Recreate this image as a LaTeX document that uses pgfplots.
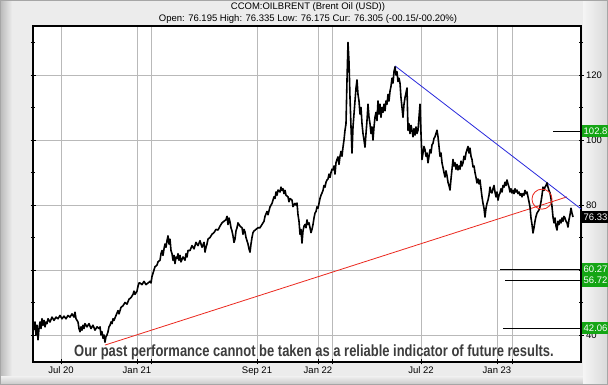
\documentclass[border=0pt]{standalone}
\usepackage{pgfplots}
\pgfplotsset{compat=1.18}
\usepackage{pgfplotstable}
\usepackage{fontspec}
\setmainfont{Liberation Sans}
\definecolor{boxgreen}{RGB}{20,165,20}
\definecolor{framegray}{RGB}{236,236,236}
\definecolor{gridgray}{RGB}{185,185,185}
\definecolor{discl}{RGB}{60,60,60}
\definecolor{trendred}{RGB}{235,40,30}
\definecolor{trendblue}{RGB}{40,40,220}

\pgfplotstableread[row sep=\\]{
x y\\
34 41.5\\ 35 44\\ 36 40\\ 37 43\\ 38 38.5\\ 39 42\\ 40 44\\ 41 42\\ 42 45\\ 43 43\\ 44 44.5\\ 45 42.5\\ 46 44\\ 47 43.5\\ 48 45\\ 50 44\\ 52 45.5\\ 54 44.5\\ 56 45.5\\ 58 45\\ 60 46\\ 62 45\\ 64 45.8\\ 66 45\\ 68 46\\ 70 45.5\\ 72 46.5\\ 74 45.5\\ 75 47\\ 76 45\\ 78 44\\ 79 42\\ 80 41\\ 81 42.5\\ 82 41.5\\ 83 43\\ 84 42\\ 85 43.5\\ 87 42.5\\ 89 43.5\\ 91 42\\ 93 43\\ 95 41.5\\ 97 42.5\\ 99 42\\ 100 42.5\\ 101 40\\ 102 41\\ 103 39\\ 104 40\\ 105 37.8\\ 106 39.5\\ 107 40\\ 108 41\\ 109 42.5\\ 110 43\\ 111 44\\ 112 43.5\\ 113 45\\ 114 44.5\\ 116 46\\ 118 47.5\\ 119 46.5\\ 121 48.5\\ 123 49\\ 125 50\\ 127 49.5\\ 129 51\\ 131 51.5\\ 133 52.5\\ 134 53.5\\ 135 52.5\\ 136 53\\ 137 53.5\\ 138 55\\ 139 56\\ 140 56\\ 142 55.5\\ 144 56.5\\ 146 55.5\\ 148 56\\ 150 56.5\\ 151 56\\ 152 58\\ 154 60\\ 155 61\\ 157 61.5\\ 158 62.5\\ 160 63\\ 161 65\\ 162 66\\ 163 64.5\\ 164 66.5\\ 165 68\\ 166 67\\ 167 69\\ 168 70.5\\ 169 68\\ 170 69.5\\ 171 66\\ 172 65\\ 173 63\\ 174 64.5\\ 175 62\\ 176 64\\ 177 63.5\\ 178 65\\ 179 63\\ 180 64.5\\ 181 62.5\\ 183 64\\ 185 63\\ 186 65\\ 187 64\\ 188 66\\ 190 66\\ 192 67.5\\ 194 66.5\\ 196 68.5\\ 198 67.5\\ 200 69\\ 202 67\\ 204 68.5\\ 205 65.5\\ 206 67\\ 207 68\\ 208 69.5\\ 210 70\\ 212 71\\ 214 71.5\\ 216 72.5\\ 218 72.3\\ 220 73.5\\ 222 74.5\\ 224 75\\ 226 75.5\\ 227 76.5\\ 228 74\\ 229 76\\ 230 74.8\\ 231 73\\ 232 72\\ 233 70.5\\ 234 68.5\\ 235 69.5\\ 236 72\\ 237 73\\ 238 74.5\\ 240 73.5\\ 242 73\\ 243 71\\ 244 72.5\\ 245 71.7\\ 246 70\\ 247 69\\ 248 68\\ 249 66.5\\ 250 65.5\\ 251 68\\ 252 70\\ 253 71.5\\ 254 72\\ 256 72.5\\ 258 73\\ 260 73\\ 262 74\\ 263 74.5\\ 264 75\\ 265 76.5\\ 267 78\\ 268 77\\ 270 79.4\\ 272 80.5\\ 274 82.5\\ 275 82\\ 276 84\\ 277 83\\ 278 84.6\\ 280 84\\ 281 85.5\\ 282 84.5\\ 283 85\\ 284 83.5\\ 285 84.5\\ 286 83\\ 288 82.5\\ 289 81\\ 290 82\\ 292 81.5\\ 293 79.5\\ 294 80\\ 295 80.5\\ 296 80\\ 297 80.6\\ 298 77\\ 299 75\\ 300 71\\ 301 72.5\\ 302 68.3\\ 303 72\\ 304 73.5\\ 305 74\\ 306 73\\ 307 75.4\\ 308 74\\ 309 74.5\\ 310 73\\ 311 71.5\\ 312 72.5\\ 313 74\\ 314 76\\ 315 77.5\\ 316 78\\ 317 79.4\\ 318 79\\ 319 80.5\\ 320 82\\ 321 83\\ 322 83.7\\ 323 84.5\\ 324 86\\ 325 85.5\\ 326 87\\ 327 87.7\\ 328 88\\ 329 89.5\\ 330 88.5\\ 331 90\\ 332 91\\ 333 90.8\\ 334 92\\ 335 89.5\\ 336 93\\ 337 94\\ 338 94.8\\ 339 92.5\\ 340 95\\ 341 96.5\\ 342 95\\ 343 97.8\\ 344 100\\ 345 103\\ 346 105\\ 347 118.5\\ 348 130\\ 349 124\\ 350 113\\ 351 104\\ 352 96\\ 353 104\\ 354 108\\ 355 112\\ 356 116\\ 357 118.5\\ 358 114\\ 359 112\\ 360 108\\ 361 110\\ 362 105\\ 363 102\\ 364 100\\ 365 97.8\\ 366 102\\ 367 106\\ 368 111\\ 369 107\\ 370 105\\ 371 102\\ 372 104\\ 373 100\\ 374 104\\ 375 107\\ 376 108.5\\ 377 106\\ 378 112\\ 379 108\\ 380 111\\ 381 107\\ 382 110\\ 383 108.5\\ 384 111\\ 385 109\\ 386 112\\ 387 111\\ 388 114\\ 389 112\\ 390 115\\ 391 116.5\\ 392 119\\ 393 117.5\\ 394 121\\ 395 122.5\\ 396 120\\ 397 121\\ 398 118\\ 399 119\\ 400 117.5\\ 401 113\\ 402 110\\ 403 107\\ 404 111\\ 405 113\\ 406 114.5\\ 407 116\\ 408 103\\ 409 105\\ 410 102\\ 411 104.5\\ 412 103\\ 413 101\\ 414 103.5\\ 415 101.5\\ 416 104\\ 417 102\\ 418 103\\ 419 107\\ 420 111\\ 421 102\\ 422 94\\ 423 96\\ 424 98\\ 425 97\\ 426 95\\ 427 96\\ 428 93\\ 429 95\\ 430 97\\ 431 96\\ 432 98.5\\ 433 99\\ 434 100.5\\ 435 101\\ 436 102\\ 437 103\\ 438 101\\ 439 98\\ 440 95\\ 441 96\\ 442 93\\ 443 91.5\\ 444 90\\ 445 88.6\\ 446 90.5\\ 447 89\\ 448 87\\ 449 86\\ 450 84.6\\ 451 88\\ 452 91\\ 453 94\\ 454 92\\ 455 93\\ 456 91\\ 457 92.5\\ 458 90.8\\ 459 92\\ 460 91\\ 461 93.5\\ 462 92\\ 463 93\\ 464 95\\ 465 94\\ 466 96\\ 467 97\\ 468 98\\ 469 96\\ 470 97.5\\ 471 95\\ 472 94\\ 473 91.7\\ 474 92\\ 475 90\\ 476 88.5\\ 477 86.8\\ 478 88\\ 479 86.5\\ 480 87.7\\ 481 85\\ 482 82.5\\ 483 80.5\\ 484 79\\ 485 76.3\\ 486 79\\ 487 80.5\\ 488 81.5\\ 489 83\\ 490 85.5\\ 491 84\\ 492 83.7\\ 493 85\\ 494 86\\ 495 84\\ 496 82.5\\ 497 84\\ 498 81.5\\ 499 83\\ 500 83.7\\ 501 85\\ 502 84\\ 503 86\\ 504 85.5\\ 505 87\\ 506 86\\ 507 87.7\\ 508 86.5\\ 509 85.5\\ 510 84\\ 511 85\\ 512 83.7\\ 513 84.5\\ 514 83.5\\ 515 85\\ 516 84\\ 517 84.6\\ 518 83.5\\ 519 84\\ 520 83\\ 521 83.5\\ 522 82.5\\ 523 83.5\\ 524 83\\ 525 84.5\\ 526 83.5\\ 527 84\\ 528 82.5\\ 529 81\\ 530 79.4\\ 531 76\\ 532 74\\ 533 71.4\\ 534 73\\ 535 75\\ 536 76.5\\ 537 77.5\\ 538 78\\ 539 78.5\\ 540 79.4\\ 541 81\\ 542 83\\ 543 85.5\\ 544 84.5\\ 545 85.5\\ 546 86\\ 547 86.8\\ 548 85.5\\ 549 84.5\\ 550 83.7\\ 551 82\\ 552 79.5\\ 553 76.3\\ 554 74.5\\ 555 76\\ 556 73.5\\ 557 72.3\\ 558 75\\ 559 74\\ 560 75.4\\ 561 74.5\\ 562 76\\ 563 75\\ 564 76.5\\ 565 76\\ 566 75\\ 567 74.5\\ 568 73.2\\ 569 75.5\\ 570 77\\ 571 79\\ 572 77.5\\ 573 76.3\\
}\price

\begin{document}
\begin{tikzpicture}
\path[use as bounding box, clip] (0,0) rectangle (608pt,385pt);
% background frame
\fill[framegray] (0,0) rectangle (608pt,385pt);
\shade[left color=gray!55, right color=framegray] (0,0) rectangle (12pt,385pt);
\shade[bottom color=gray!45, top color=framegray] (0,0) rectangle (608pt,8pt);
\shade[left color=gray!8, right color=gray!30] (583pt,0) rectangle (608pt,385pt);
\draw[gray!70, line width=1pt] (0.5pt,0.5pt) rectangle (607.5pt,384.5pt);
\fill[white] (33pt,23pt) rectangle (581pt,359pt);
% titles
\node[font=\fontsize{9.5}{11}\selectfont, anchor=center] at (308pt,378pt) {CCOM:OILBRENT (Brent Oil (USD))};
\node[font=\fontsize{9.5}{11}\selectfont, anchor=center] at (308pt,366pt) {Open: 76.195 High: 76.335 Low: 76.175 Cur: 76.305 (-00.15/-00.20\%)};
\begin{axis}[
  at={(33pt,23pt)}, anchor=south west,
  scale only axis, width=548pt, height=336pt,
  xmin=33, xmax=581, ymin=31.69, ymax=135.08,
  clip=false,
  axis line style={line width=1.1pt, black},
  xtick={61,137,151,257,318,332,421,497,512},
  xticklabels={Jul 20,Jan 21,,Sep 21,Jan 22,,Jul 22,Jan 23,},
  ytick={40,60,80,100,120},
  yticklabels={40,,80,100,120},
  minor ytick={50,70,90,110,130},
  yticklabel pos=right,
  ytick pos=both,
  xtick pos=bottom,
  tick align=center,
  major tick length=5pt, minor tick length=4pt,
  tick style={black, line width=0.6pt},
  grid=major,
  major grid style={gridgray, line width=0.7pt},
  ticklabel style={font=\fontsize{9.5}{11}\selectfont},
  /pgf/number format/assume math mode=true,
  yticklabel style={anchor=west, xshift=-1pt},
  xticklabel style={yshift=1pt},
]
% trend lines
\addplot[trendred, line width=0.8pt] coordinates {(105,36.9) (567,82.5)};
\addplot[trendblue, line width=0.8pt] coordinates {(395,122.8) (581,78.8)};
% price series
\addplot[black, line width=1.6pt, line join=round] table {\price};
% target lines
\addplot[black, line width=0.8pt] coordinates {(553,102.8) (581,102.8)};
\addplot[black, line width=0.8pt] coordinates {(500,60.27) (581,60.27)};
\addplot[black, line width=0.8pt] coordinates {(505,56.72) (581,56.72)};
\addplot[black, line width=0.8pt] coordinates {(503,42.06) (581,42.06)};
% circle
\draw[trendred, line width=0.8pt] (axis cs:542,81.8) circle [radius=10pt];
% value boxes
\node[fill=boxgreen, text=white, anchor=west, minimum height=12pt, inner sep=1.5pt, font=\fontsize{9.5}{11}\selectfont] at (axis cs:582,102.8) {102.8\hspace*{10pt}};
\node[fill=black, text=white, anchor=west, minimum height=12pt, inner sep=1.5pt, font=\fontsize{9.5}{11}\selectfont] at (axis cs:582,76.3) {76.33\hspace*{10pt}};
\node[fill=boxgreen, text=white, anchor=west, minimum height=12pt, inner sep=1.5pt, font=\fontsize{9.5}{11}\selectfont] at (axis cs:582,60.27) {60.27\hspace*{10pt}};
\node[fill=boxgreen, text=white, anchor=west, minimum height=12pt, inner sep=1.5pt, font=\fontsize{9.5}{11}\selectfont] at (axis cs:582,56.72) {56.72\hspace*{10pt}};
\node[fill=boxgreen, text=white, anchor=west, minimum height=12pt, inner sep=1.5pt, font=\fontsize{9.5}{11}\selectfont] at (axis cs:582,42.06) {42.06\hspace*{10pt}};
\end{axis}
\node[text=discl, font=\bfseries\fontsize{12}{14}\selectfont] at (314pt,33pt) {\scalebox{1.08}[1.35]{Our past performance cannot be taken as a reliable indicator of future results.}};
\end{tikzpicture}
\end{document}
